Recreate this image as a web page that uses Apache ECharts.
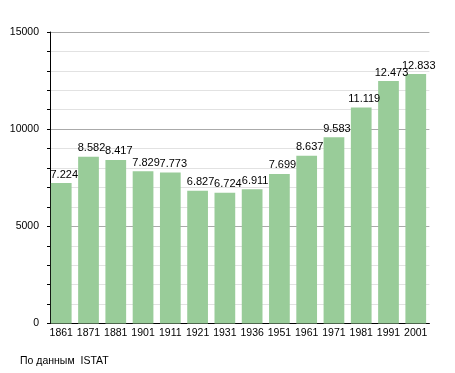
<!DOCTYPE html>
<html><head><meta charset="utf-8">
<script src="https://cdn.jsdelivr.net/npm/echarts@6/dist/echarts.min.js"></script>
<style>html,body{margin:0;padding:0;background:#fff}#c{width:455px;height:373px}</style>
</head><body><div id="c"></div>
<script>
const years = ['1861','1871','1881','1901','1911','1921','1931','1936','1951','1961','1971','1981','1991','2001'];
const population = [7224, 8582, 8417, 7829, 7773, 6827, 6724, 6911, 7699, 8637, 9583, 11119, 12473, 12833];
const yTicks = [0, 5000, 10000, 15000];
const source = 'По данным  ISTAT';

const chart = echarts.init(document.getElementById('c'), null, {renderer: 'canvas'});
const font = 'Liberation Sans, Arial, sans-serif';
chart.setOption({
  animation: false,
  backgroundColor: '#fff',
  textStyle: {fontFamily: font},
  grid: {left: 47.6, top: 32, width: 381.8, height: 291.5, containLabel: false},
  xAxis: {
    type: 'category', data: years,
    axisLine: {show: true, lineStyle: {color: '#000', width: 1}},
    axisTick: {show: false},
    axisLabel: {color: '#000', fontSize: 10.5, margin: 4, interval: 0, fontFamily: font}
  },
  yAxis: {
    type: 'value', min: 0, max: 15000, interval: 1000, offset: -2.4,
    axisLine: {show: true, lineStyle: {color: '#000', width: 1}},
    axisTick: {show: true, length: 3, lineStyle: {color: '#000'}},
    axisLabel: {color: '#000', fontSize: 10.5, margin: 11, fontFamily: font,
      formatter: v => yTicks.includes(v) ? String(v) : ''},
    splitLine: {show: true, lineStyle: {color: ['#aaaaaa','#e2e2e2','#e2e2e2','#e2e2e2','#e2e2e2'], width: 1}}
  },
  series: [{
    type: 'bar', data: population, barCategoryGap: '24%',
    itemStyle: {color: '#99cc99'},
    label: {show: true, position: 'top', distance: 3, offset: [3, 0], color: '#000', fontSize: 11, fontFamily: font,
      formatter: p => { const s = String(p.value); return s.slice(0, s.length - 3) + '.' + s.slice(-3); }}
  }],
  graphic: [{type: 'text', left: 20, top: 356, style: {text: source, fill: '#000', font: '10.5px ' + font}}]
});
</script></body></html>
